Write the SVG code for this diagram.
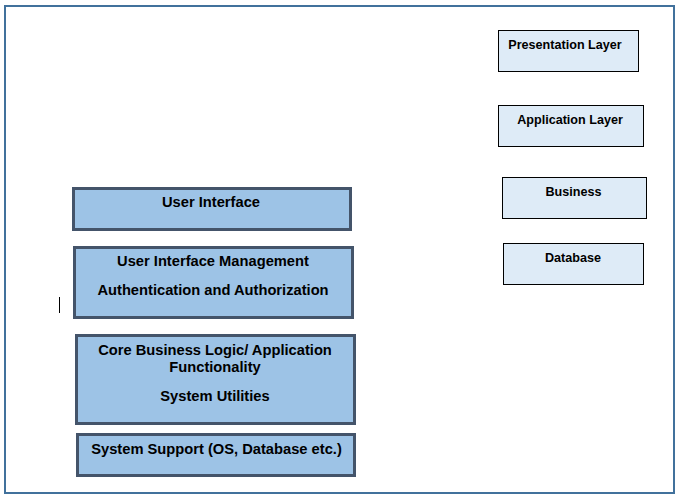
<svg xmlns="http://www.w3.org/2000/svg" width="681" height="503" viewBox="0 0 681 503">
<style>
.frame{fill:#fff;stroke:#41719c;stroke-width:2}
.lay{fill:#9dc3e6;stroke:#44546a;stroke-width:3}
.tag{fill:#deebf7;stroke:#000;stroke-width:1}
.lt{font-family:"Liberation Sans",Arial,sans-serif;font-weight:bold;font-size:14.7px;fill:#000;text-anchor:middle}
.rt{font-family:"Liberation Sans",Arial,sans-serif;font-weight:bold;font-size:12.6px;fill:#000;text-anchor:middle}
</style>
<rect width="681" height="503" fill="#fff"/>
<rect class="frame" x="5" y="6" width="669" height="487"/>
<g id="connectors"/>
<g id="user-interface">
<rect class="lay" x="73.5" y="188.5" width="277" height="41"/>
<text class="lt" x="211" y="207">User Interface</text>
</g>
<g id="ui-management">
<rect class="lay" x="74.5" y="247.5" width="278" height="70"/>
<text class="lt" x="213" y="266">User Interface Management</text>
<text class="lt" x="213" y="295">Authentication and Authorization</text>
</g>
<g id="core-logic">
<rect class="lay" x="76.5" y="335.5" width="278" height="88"/>
<text class="lt" x="215" y="355">Core Business Logic/ Application</text>
<text class="lt" x="215" y="372">Functionality</text>
<text class="lt" x="215" y="401">System Utilities</text>
</g>
<g id="system-support">
<rect class="lay" x="77.5" y="434.5" width="277" height="41"/>
<text class="lt" x="216.5" y="454">System Support (OS, Database etc.)</text>
</g>
<g id="presentation-layer">
<rect class="tag" x="498.5" y="30.5" width="140" height="41"/>
<text class="rt" x="565" y="49">Presentation Layer</text>
</g>
<g id="application-layer">
<rect class="tag" x="498.5" y="105.5" width="145" height="41"/>
<text class="rt" x="570" y="124">Application Layer</text>
</g>
<g id="business">
<rect class="tag" x="502.5" y="177.5" width="144" height="41"/>
<text class="rt" x="573.5" y="196">Business</text>
</g>
<g id="database">
<rect class="tag" x="503.5" y="243.5" width="140" height="41"/>
<text class="rt" x="573" y="262">Database</text>
</g>
<line x1="59.5" y1="297" x2="59.5" y2="313" stroke="#000" stroke-width="1"/>
</svg>
